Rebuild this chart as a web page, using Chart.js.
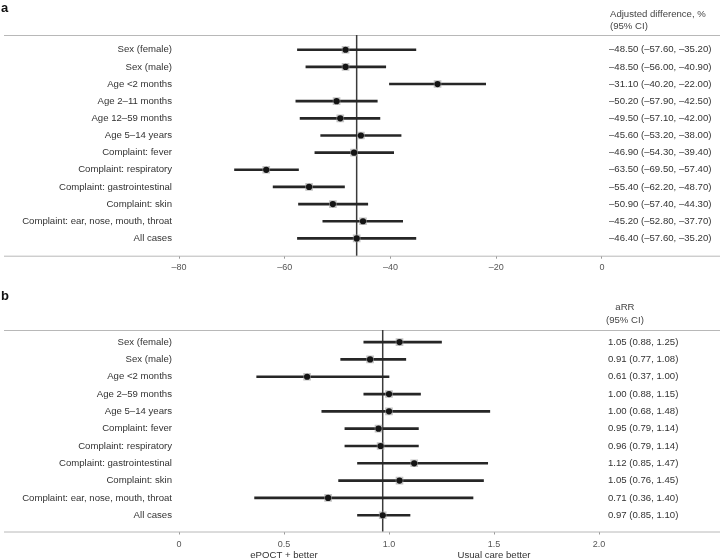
<!DOCTYPE html>
<html>
<head>
<meta charset="utf-8">
<script src="https://cdn.jsdelivr.net/npm/chart.js@4.4.1/dist/chart.umd.min.js"></script>
<style>
  body { margin: 0; background: #fff; }
  canvas { display: block; }
</style>
</head>
<body>
<canvas id="panelA" width="722" height="280"></canvas>
<canvas id="panelB" width="722" height="280"></canvas>
<script>
// panel a: adjusted difference, %
const labelsA = ['Sex (female)', 'Sex (male)', 'Age <2 months', 'Age 2\u201311 months', 'Age 12\u201359 months',
  'Age 5\u201314 years', 'Complaint: fever', 'Complaint: respiratory', 'Complaint: gastrointestinal',
  'Complaint: skin', 'Complaint: ear, nose, mouth, throat', 'All cases'];
const estA = [-48.5, -48.5, -31.1, -50.2, -49.5, -45.6, -46.9, -63.5, -55.4, -50.9, -45.2, -46.4];
const loA = [-57.6, -56.0, -40.2, -57.9, -57.1, -53.2, -54.3, -69.5, -62.2, -57.4, -52.8, -57.6];
const hiA = [-35.2, -40.9, -22.0, -42.5, -42.0, -38.0, -39.4, -57.4, -48.7, -44.3, -37.7, -35.2];
const ticksA = [-80, -60, -40, -20, 0];
const headerA = ['Adjusted difference, %', '(95% CI)'];

// panel b: aRR
const labelsB = ['Sex (female)', 'Sex (male)', 'Age <2 months', 'Age 2\u201359 months', 'Age 5\u201314 years',
  'Complaint: fever', 'Complaint: respiratory', 'Complaint: gastrointestinal', 'Complaint: skin',
  'Complaint: ear, nose, mouth, throat', 'All cases'];
const estB = [1.05, 0.91, 0.61, 1.00, 1.00, 0.95, 0.96, 1.12, 1.05, 0.71, 0.97];
const loB = [0.88, 0.77, 0.37, 0.88, 0.68, 0.79, 0.79, 0.85, 0.76, 0.36, 0.85];
const hiB = [1.25, 1.08, 1.00, 1.15, 1.48, 1.14, 1.14, 1.47, 1.45, 1.40, 1.10];
const ticksB = [0, 0.5, 1.0, 1.5, 2.0];
const headerB = ['aRR', '(95% CI)'];
const directionText = ['ePOCT + better', 'Usual care better'];
const directionAt = [0.5, 1.5];

const FONT = '"Liberation Sans", Arial, sans-serif';
Chart.defaults.font.family = FONT;

const dash = v => (v < 0 ? '\u2013' : '') + Math.abs(v).toFixed(2);

const decor = {
  id: 'decor',
  beforeDatasetsDraw(chart, args, p) {
    const { ctx, chartArea: a, scales } = chart;
    ctx.save();
    ctx.strokeStyle = '#b8b8b8';
    ctx.lineWidth = 1;
    [a.top, a.bottom].forEach(y => {
      ctx.beginPath();
      ctx.moveTo(4, y + 0.5);
      ctx.lineTo(720, y + 0.5);
      ctx.stroke();
    });
    // reference line at the overall estimate
    const x = scales.x.getPixelForValue(p.refX);
    ctx.strokeStyle = '#3a3a3a';
    ctx.lineWidth = 1.5;
    ctx.beginPath();
    ctx.moveTo(x, a.top);
    ctx.lineTo(x, a.bottom);
    ctx.stroke();
    ctx.restore();
  },
  afterDraw(chart, args, p) {
    const { ctx, scales } = chart;
    ctx.save();
    ctx.fillStyle = '#111';
    ctx.font = 'bold 13px ' + FONT;
    ctx.textBaseline = 'middle';
    ctx.textAlign = 'left';
    ctx.fillText(p.letter, 1, p.letterY);

    ctx.fillStyle = '#444';
    ctx.font = '9.6px ' + FONT;
    const wLast = ctx.measureText(p.header[p.header.length - 1]).width;
    p.header.forEach((t, i) => {
      if (p.headerCenter) {
        ctx.textAlign = 'center';
        ctx.fillText(t, p.headerX + wLast / 2, p.headerY[i]);
      } else {
        ctx.textAlign = 'left';
        ctx.fillText(t, p.headerX, p.headerY[i]);
      }
    });

    if (p.dirText) {
      ctx.fillStyle = '#333';
      ctx.textAlign = 'center';
      p.dirText.forEach((t, i) => {
        ctx.fillText(t, scales.x.getPixelForValue(p.dirAt[i]), p.dirY);
      });
    }
    ctx.restore();
  }
};

function makeForest(id, p) {
  const rows = p.labels.map((_, i) => i);
  const pts = rows.map(i => ({ x: p.est[i], y: i }));
  const text = rows.map(i => p.fmt(p.est[i]) + ' (' + p.fmt(p.lo[i]) + ', ' + p.fmt(p.hi[i]) + ')');
  const rowTicks = s => { s.ticks = rows.map(v => ({ value: v })); };

  return new Chart(document.getElementById(id), {
    type: 'bar',
    data: {
      datasets: [
        { type: 'scatter', data: pts, pointStyle: 'circle', pointRadius: 3.1,
          pointBackgroundColor: '#141414', pointBorderWidth: 0, order: 1 },
        { type: 'scatter', data: pts, pointStyle: 'rect', pointRadius: 5.4,
          pointBackgroundColor: 'rgba(165,165,165,0.65)', pointBorderWidth: 0, order: 2 },
        { type: 'bar', indexAxis: 'y', data: rows.map(i => ({ x: [p.lo[i], p.hi[i]], y: i })),
          backgroundColor: '#262626', barThickness: 2, order: 3 }
      ]
    },
    options: {
      responsive: false,
      animation: false,
      devicePixelRatio: 1,
      layout: { padding: { top: p.top, left: 0, right: 0, bottom: 0 } },
      plugins: {
        legend: { display: false },
        tooltip: { enabled: false },
        decor: {
          refX: p.est[p.est.length - 1], letter: p.letter, letterY: p.letterY,
          header: p.header, headerX: p.headerX, headerY: p.headerY, headerCenter: p.headerCenter,
          dirText: p.dirText, dirAt: p.dirAt, dirY: p.dirY
        }
      },
      scales: {
        x: {
          type: 'linear', min: p.xMin, max: p.xMax, offset: false,
          afterBuildTicks: s => { s.ticks = p.ticks.map(v => ({ value: v })); },
          afterFit: s => { s.height = p.xHeight; },
          grid: { offset: false, drawOnChartArea: false, drawTicks: true, tickLength: 3, color: '#9a9a9a' },
          border: { display: false },
          ticks: { padding: p.tickPad, color: '#555', font: { size: 9 }, callback: p.tickFmt, maxRotation: 0 }
        },
        y: {
          type: 'linear', reverse: true, min: p.yMin, max: p.yMax, offset: false,
          afterBuildTicks: rowTicks,
          afterFit: s => { s.width = 179; },
          grid: { display: false, offset: false, tickLength: 0 },
          border: { display: false },
          ticks: { padding: 7, color: '#333', font: { size: 9.6 }, autoSkip: false,
            callback: v => p.labels[v] }
        },
        y2: {
          type: 'linear', position: 'right', reverse: true, min: p.yMin, max: p.yMax, offset: false,
          afterBuildTicks: rowTicks,
          afterFit: s => { s.width = 119; },
          grid: { display: false, offset: false, tickLength: 0 },
          border: { display: false },
          ticks: { padding: p.valPad, color: '#333', font: { size: 9.6 }, autoSkip: false,
            callback: v => text[v] }
        }
      }
    },
    plugins: [decor]
  });
}

makeForest('panelA', {
  labels: labelsA, est: estA, lo: loA, hi: hiA, fmt: dash,
  ticks: ticksA, tickFmt: v => (v < 0 ? '\u2013' : '') + Math.abs(v),
  xMin: -80, xMax: 0.19, xHeight: 24.3, tickPad: 3, valPad: 6,
  yMin: -0.86, yMax: 12.01, top: 35,
  letter: 'a', letterY: 8,
  header: headerA, headerX: 610, headerY: [14, 26.7], headerCenter: false
});

makeForest('panelB', {
  labels: labelsB, est: estB, lo: loB, hi: hiB, fmt: v => v.toFixed(2),
  ticks: ticksB, tickFmt: v => (v === 0 ? '0' : v.toFixed(1)),
  xMin: 0, xMax: 2.019, xHeight: 28.5, tickPad: 5, valPad: 5,
  yMin: -0.70, yMax: 10.94, top: 50,
  letter: 'b', letterY: 16,
  header: headerB, headerX: 606, headerY: [27.7, 40.7], headerCenter: true,
  dirText: directionText, dirAt: directionAt, dirY: 275
});
</script>
</body>
</html>
